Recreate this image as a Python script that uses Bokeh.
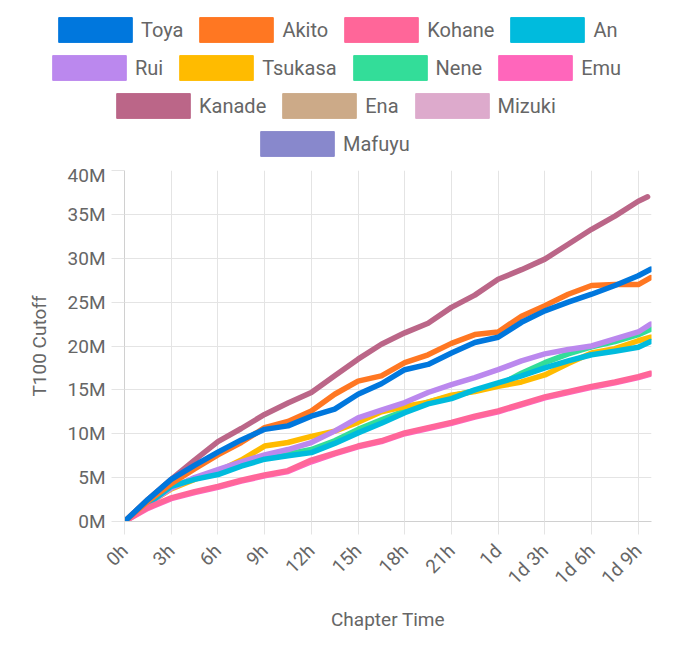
from bokeh.plotting import figure
from bokeh.models import Legend, LegendItem, FixedTicker, Range1d
from bokeh.embed import file_html
from bokeh.resources import INLINE

# ---------------- data ----------------
names = ["Toya", "Akito", "Kohane", "An", "Rui", "Tsukasa", "Nene", "Emu",
         "Kanade", "Ena", "Mizuki", "Mafuyu"]
colors = ["#0077dd", "#ff7722", "#ff6699", "#00bbdd", "#bb88ee", "#ffbb00",
          "#33dd99", "#ff66bb", "#bb6688", "#ccaa88", "#ddaacc", "#8888cc"]
legend_rows = [["Toya", "Akito", "Kohane", "An"],
               ["Rui", "Tsukasa", "Nene", "Emu"],
               ["Kanade", "Ena", "Mizuki"],
               ["Mafuyu"]]

# hours since chapter start
hours = [0, 1.5, 3, 4.5, 6, 7.5, 9, 10.5, 12, 13.5, 15, 16.5, 18, 19.5, 21,
         22.5, 24, 25.5, 27, 28.5, 30, 31.5, 33, 33.8]
kanade_hours = [0, 1.5, 3, 4.5, 6, 7.5, 9, 10.5, 12, 13.5, 15, 16.5, 18, 19.5,
                21, 22.5, 24, 25.5, 27, 28.5, 30, 31.5, 33, 33.6]

# T100 cutoff in millions
toya = [0, 2.5, 4.8, 6.4, 7.9, 9.3, 10.5, 10.9, 12.0, 12.8, 14.5, 15.7, 17.3,
        17.9, 19.2, 20.4, 21.0, 22.7, 24.0, 25.0, 25.9, 26.9, 28.0, 28.75]
akito = [0, 2.3, 4.3, 6.0, 7.6, 9.0, 10.7, 11.4, 12.6, 14.5, 16.0, 16.6, 18.1,
         19.0, 20.3, 21.3, 21.6, 23.4, 24.6, 25.9, 26.9, 27.0, 27.0, 27.8]
kohane = [0, 1.6, 2.7, 3.4, 4.0, 4.7, 5.3, 5.8, 7.0, 7.8, 8.6, 9.2, 10.1, 10.7,
          11.3, 12.0, 12.6, 13.4, 14.2, 14.8, 15.4, 15.9, 16.5, 16.9]
an = [0, 2.0, 4.0, 4.8, 5.35, 6.3, 7.1, 7.5, 7.85, 8.9, 10.1, 11.2, 12.4, 13.4,
      14.0, 15.0, 15.8, 16.6, 17.5, 18.3, 19.0, 19.4, 19.85, 20.5]
rui = [0, 2.0, 3.8, 5.0, 5.9, 6.8, 7.6, 8.2, 9.0, 10.3, 11.8, 12.7, 13.55, 14.7,
       15.6, 16.4, 17.3, 18.3, 19.1, 19.6, 20.0, 20.8, 21.6, 22.5]
tsukasa = [0, 2.0, 3.7, 4.8, 5.7, 7.0, 8.6, 9.0, 9.7, 10.3, 11.3, 12.5, 13.1,
           13.6, 14.4, 14.8, 15.4, 15.9, 16.7, 18.0, 19.2, 19.7, 20.6, 21.0]
nene = [0, 2.0, 3.9, 4.9, 5.5, 6.4, 7.3, 7.7, 8.2, 9.2, 10.5, 11.6, 12.6, 13.6,
        14.3, 14.9, 15.5, 16.9, 18.1, 19.1, 19.9, 20.5, 21.3, 21.9]
emu = [0, 1.5, 2.6, 3.3, 3.9, 4.6, 5.2, 5.7, 6.8, 7.7, 8.5, 9.1, 10.0, 10.6,
       11.2, 11.9, 12.5, 13.3, 14.1, 14.7, 15.3, 15.8, 16.4, 16.8]
kanade = [0, 2.5, 4.8, 7.0, 9.1, 10.6, 12.2, 13.5, 14.7, 16.6, 18.5, 20.2, 21.5,
          22.6, 24.4, 25.8, 27.6, 28.7, 29.9, 31.6, 33.3, 34.8, 36.5, 37.0]
ena = []
mizuki = []
mafuyu = []

series = {"Toya": (hours, toya), "Akito": (hours, akito),
          "Kohane": (hours, kohane), "An": (hours, an), "Rui": (hours, rui),
          "Tsukasa": (hours, tsukasa), "Nene": (hours, nene),
          "Emu": (hours, emu), "Kanade": (kanade_hours, kanade),
          "Ena": ([], ena), "Mizuki": ([], mizuki), "Mafuyu": ([], mafuyu)}

x_ticks = [0, 3, 6, 9, 12, 15, 18, 21, 24, 27, 30, 33]
x_tick_labels = ["0h", "3h", "6h", "9h", "12h", "15h", "18h", "21h", "1d",
                 "1d 3h", "1d 6h", "1d 9h"]
y_ticks = [0, 5, 10, 15, 20, 25, 30, 35, 40]
y_tick_labels = ["0M", "5M", "10M", "15M", "20M", "25M", "30M", "35M", "40M"]

FONT = "Roboto"
TXT = "#666666"
GRID = "#e4e4e4"
color_of = dict(zip(names, colors))

# ---------------- legend figure (separate root, full-width frame) ----------------
LH = 163
lf = figure(width=664, height=LH, output_backend="svg", toolbar_location=None,
            x_axis_location=None, y_axis_location=None,
            min_border_left=0, min_border_right=0, min_border_top=0,
            min_border_bottom=0, outline_line_color=None,
            x_range=Range1d(0, 1), y_range=Range1d(0, 1))
lf.xgrid.visible = False
lf.ygrid.visible = False
swatch = {}
for n in names:
    swatch[n] = lf.quad(left=[2], right=[3], top=[3], bottom=[2],
                        fill_color=color_of[n], line_color=color_of[n],
                        line_width=1)
row_x = [49, 43, 107, 251]
row_y = [118, 80, 42, 4]
for row, lx, ly in zip(legend_rows, row_x, row_y):
    lg = Legend(items=[LegendItem(label=n, renderers=[swatch[n]]) for n in row],
                orientation="horizontal", location=(lx, ly),
                glyph_width=92, glyph_height=31, label_standoff=0, spacing=7,
                padding=0, margin=0, border_line_color=None,
                background_fill_alpha=0, label_text_font=FONT,
                label_text_font_size="20px", label_text_color=TXT,
                label_height=31)
    lf.add_layout(lg, "center")

# ---------------- chart ----------------
p = figure(width=664, height=482, output_backend="svg", toolbar_location=None,
           x_range=Range1d(0, 33.85), y_range=Range1d(0, 40),
           min_border_left=124, min_border_right=13, min_border_top=7,
           min_border_bottom=124, outline_line_color=None)

for n in reversed(names):
    xs, ys = series[n]
    if len(ys) == 0:
        continue
    p.line(xs, ys, line_color=color_of[n], line_width=5.5, line_join="round",
           line_cap="round")

p.xaxis.ticker = FixedTicker(ticks=x_ticks)
p.xaxis.major_label_overrides = dict(zip(x_ticks, x_tick_labels))
p.yaxis.ticker = FixedTicker(ticks=y_ticks)
p.yaxis.major_label_overrides = dict(zip(y_ticks, y_tick_labels))
p.xaxis.major_label_orientation = 0.785398
p.xaxis.axis_label = "Chapter Time"
p.yaxis.axis_label = "T100 Cutoff"

for ax in (p.xaxis, p.yaxis):
    ax.axis_line_color = "#d0d0d0"
    ax.major_tick_line_color = GRID
    ax.major_tick_out = 13
    ax.major_tick_in = 0
    ax.minor_tick_line_color = None
    ax.major_label_text_font = FONT
    ax.major_label_text_font_size = "19px"
    ax.major_label_text_color = TXT
    ax.axis_label_text_font = FONT
    ax.axis_label_text_font_size = "19px"
    ax.axis_label_text_font_style = "normal"
    ax.axis_label_text_color = TXT
p.yaxis.major_label_standoff = 6
p.yaxis.axis_label_standoff = 14
p.xaxis.major_label_standoff = 13
p.xaxis.axis_label_standoff = 8
p.grid.grid_line_color = GRID
p.grid.grid_line_width = 1

open("out.html", "w").write(file_html([lf, p], INLINE))
